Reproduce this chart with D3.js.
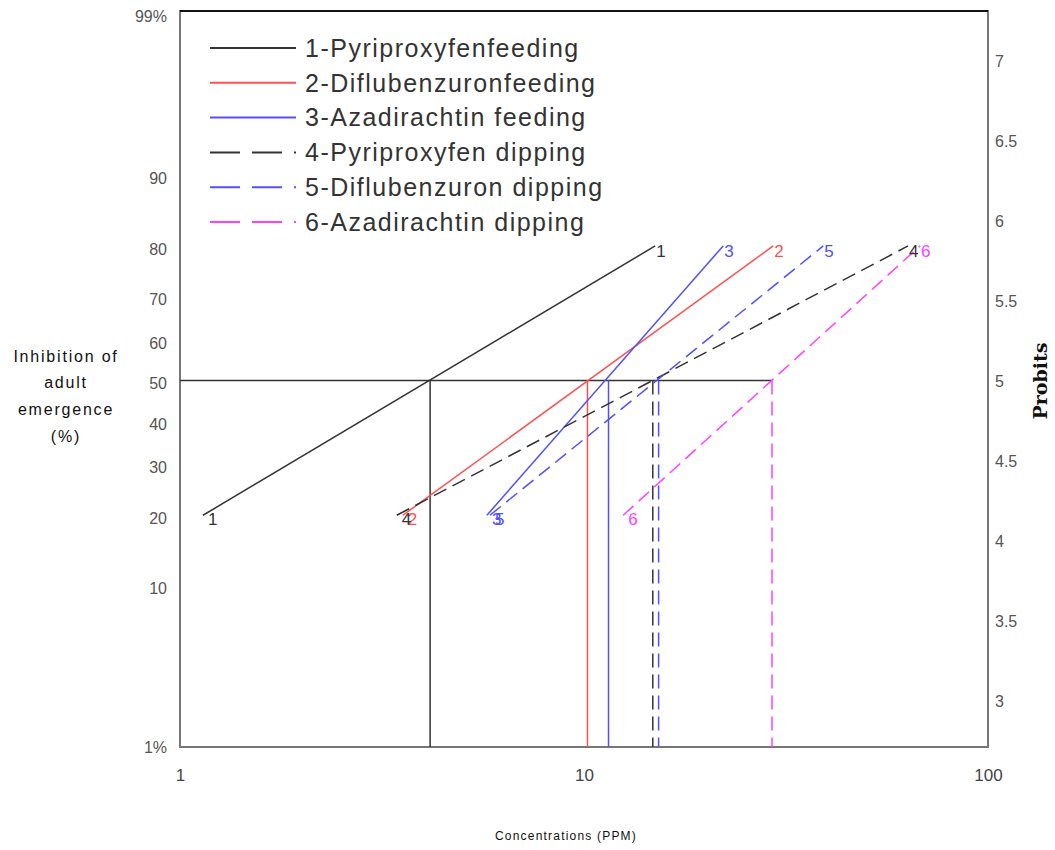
<!DOCTYPE html>
<html>
<head>
<meta charset="utf-8">
<script src="https://cdn.jsdelivr.net/npm/d3@7"></script>
<style>
  body { margin: 0; background: #fff; }
  svg { display: block; }
</style>
</head>
<body>
<svg id="chart" width="1055" height="850"></svg>
<script>
// series names and the numbers drawn at each end of a line
var seriesNames = ["1-Pyriproxyfenfeeding", "2-Diflubenzuronfeeding", "3-Azadirachtin feeding",
                   "4-Pyriproxyfen dipping", "5-Diflubenzuron dipping", "6-Azadirachtin dipping"];
var seriesIds = ["1", "2", "3", "4", "5", "6"];

// concentrations (PPM)
var lc20 = [1.14, 3.56, 5.75, 3.44, 5.85, 12.5];
var lc50 = [4.16, 10.2, 11.5, 14.8, 15.3, 29.2];
var lc80 = [15.0, 29.4, 22.1, 63.4, 39.1, 67.9];
var lowPct = 20, midPct = 50, highPct = 80;

// axis ticks
var pctTicks = [99, 90, 80, 70, 60, 50, 40, 30, 20, 10, 1];
var pctLabels = ["99%", "90", "80", "70", "60", "50", "40", "30", "20", "10", "1%"];
var probitTicks = [3, 3.5, 4, 4.5, 5, 5.5, 6, 6.5, 7];
var concTicks = [1, 10, 100];

// styles
var colors = ["#333", "#ff5050", "#5050ff", "#333", "#5050ff", "#ff40ff"];
var dashed = [false, false, false, true, true, true];

var plotL = 180, plotR = 988, plotT = 11, plotB = 747;

// inverse normal cdf (Acklam) -> probit = z + 5
function probit(pct) {
  var p = pct / 100;
  var a = [-3.969683028665376e+01, 2.209460984245205e+02, -2.759285104469687e+02, 1.383577518672690e+02, -3.066479806614716e+01, 2.506628277459239e+00],
      b = [-5.447609879822406e+01, 1.615858368580409e+02, -1.556989798598866e+02, 6.680131188771972e+01, -1.328068155288572e+01],
      c = [-7.784894002430293e-03, -3.223964580411365e-01, -2.400758277161838e+00, -2.549671010029189e+00, 4.374664141464968e+00, 2.938163982698783e+00],
      d = [7.784695709041462e-03, 3.224671290700398e-01, 2.445134137142996e+00, 3.754408661907416e+00];
  var q, r, z;
  if (p < 0.02425) {
    q = Math.sqrt(-2 * Math.log(p));
    z = (((((c[0]*q+c[1])*q+c[2])*q+c[3])*q+c[4])*q+c[5]) / ((((d[0]*q+d[1])*q+d[2])*q+d[3])*q+1);
  } else if (p <= 1 - 0.02425) {
    q = p - 0.5; r = q * q;
    z = (((((a[0]*r+a[1])*r+a[2])*r+a[3])*r+a[4])*r+a[5])*q / (((((b[0]*r+b[1])*r+b[2])*r+b[3])*r+b[4])*r+1);
  } else {
    q = Math.sqrt(-2 * Math.log(1 - p));
    z = -(((((c[0]*q+c[1])*q+c[2])*q+c[3])*q+c[4])*q+c[5]) / ((((d[0]*q+d[1])*q+d[2])*q+d[3])*q+1);
  }
  return z + 5;
}

var svg = d3.select("#chart");

var x = d3.scaleLog().domain([1, 100]).range([plotL, plotR]);
var y = d3.scaleLinear().domain([2.71, 7.31]).range([plotB, plotT]);
var yp = function(pct) { return y(probit(pct)); };

// frame
svg.append("rect")
    .attr("x", plotL).attr("y", plotT)
    .attr("width", plotR - plotL).attr("height", plotB - plotT)
    .attr("fill", "none").attr("stroke", "#777").attr("stroke-width", 2);
svg.append("line")
    .attr("x1", plotL).attr("x2", plotR).attr("y1", plotT).attr("y2", plotT)
    .attr("stroke", "#111").attr("stroke-width", 2);

// left percent labels
svg.append("g").selectAll("text")
    .data(pctTicks)
  .enter().append("text")
    .attr("x", 167)
    .attr("y", function(d) { return Math.max(16, Math.min(747, yp(d) + 3)); })
    .attr("dy", "0.35em")
    .attr("text-anchor", "end")
    .attr("font-family", "Liberation Sans, Arial, sans-serif")
    .attr("font-size", 16)
    .attr("fill", "#555")
    .text(function(d, i) { return pctLabels[i]; });

// right probit axis
var yAxis = d3.axisRight(y).tickValues(probitTicks).tickSize(0).tickPadding(7)
    .tickFormat(function(d) { return d; });
var gy = svg.append("g")
    .attr("transform", "translate(" + plotR + ",1)")
    .call(yAxis);
gy.select(".domain").remove();
gy.selectAll("text")
    .attr("font-family", "Liberation Sans, Arial, sans-serif")
    .attr("font-size", 16)
    .attr("fill", "#555");

// bottom concentration axis
var xAxis = d3.axisBottom(x).tickValues(concTicks).tickSize(0).tickPadding(22)
    .tickFormat(d3.format("d"));
var gx = svg.append("g")
    .attr("transform", "translate(0," + plotB + ")")
    .call(xAxis);
gx.select(".domain").remove();
gx.selectAll("text")
    .attr("font-family", "Liberation Sans, Arial, sans-serif")
    .attr("font-size", 17)
    .attr("fill", "#444");

// axis titles
var leftTitle = ["Inhibition of", "adult", "emergence", "(%)"];
svg.append("g").selectAll("text")
    .data(leftTitle)
  .enter().append("text")
    .attr("x", 66)
    .attr("y", function(d, i) { return 356 + i * 26.7; })
    .attr("dy", "0.35em")
    .attr("text-anchor", "middle")
    .attr("font-family", "Liberation Sans, Arial, sans-serif")
    .attr("font-size", 16)
    .attr("letter-spacing", 1.8)
    .attr("fill", "#111")
    .text(function(d) { return d; });

svg.append("text")
    .attr("transform", "translate(1040," + 381 + ") rotate(-90)")
    .attr("dy", "0.35em")
    .attr("text-anchor", "middle")
    .attr("font-family", "DejaVu Serif, serif")
    .attr("font-weight", "bold")
    .attr("font-size", 19)
    .attr("fill", "#111")
    .text("Probits");

svg.append("text")
    .attr("x", 566).attr("y", 836)
    .attr("dy", "0.35em")
    .attr("text-anchor", "middle")
    .attr("font-family", "Liberation Sans, Arial, sans-serif")
    .attr("font-size", 12)
    .attr("letter-spacing", 1.2)
    .attr("fill", "#111")
    .text("Concentrations (PPM)");

var idx = d3.range(seriesNames.length);

// drop lines from LC50 to the bottom axis
svg.append("line")
    .attr("x1", plotL).attr("x2", x(d3.max(lc50)))
    .attr("y1", yp(midPct)).attr("y2", yp(midPct))
    .attr("stroke", "#333").attr("stroke-width", 1.5);

svg.append("g").selectAll("line")
    .data(idx)
  .enter().append("line")
    .attr("x1", function(i) { return x(lc50[i]); })
    .attr("x2", function(i) { return x(lc50[i]); })
    .attr("y1", yp(midPct))
    .attr("y2", plotB)
    .attr("stroke", function(i) { return colors[i]; })
    .attr("stroke-width", 1.5)
    .attr("stroke-dasharray", function(i) { return dashed[i] ? "14,7" : null; });

// probit regression lines
svg.append("g").selectAll("line")
    .data(idx)
  .enter().append("line")
    .attr("x1", function(i) { return x(lc20[i]); })
    .attr("y1", yp(lowPct))
    .attr("x2", function(i) { return x(lc80[i]); })
    .attr("y2", yp(highPct))
    .attr("stroke", function(i) { return colors[i]; })
    .attr("stroke-width", 1.5)
    .attr("stroke-dasharray", function(i) { return dashed[i] ? "14,7" : null; });

// end numbers
var endLabels = svg.append("g")
    .attr("font-family", "Liberation Sans, Arial, sans-serif")
    .attr("font-size", 17);
endLabels.selectAll(".lo")
    .data(idx)
  .enter().append("text")
    .attr("class", "lo")
    .attr("x", function(i) { return x(lc20[i]) + 5; })
    .attr("y", yp(lowPct) + 4)
    .attr("dy", "0.35em")
    .attr("fill", function(i) { return colors[i]; })
    .text(function(i) { return seriesIds[i]; });
endLabels.selectAll(".hi")
    .data(idx)
  .enter().append("text")
    .attr("class", "hi")
    .attr("x", function(i) { return x(lc80[i]) + 1; })
    .attr("y", yp(highPct) + 5)
    .attr("dy", "0.35em")
    .attr("fill", function(i) { return colors[i]; })
    .text(function(i) { return seriesIds[i]; });

// legend
var legend = svg.append("g").attr("transform", "translate(210,48)");
var item = legend.selectAll("g")
    .data(idx)
  .enter().append("g")
    .attr("transform", function(i) { return "translate(0," + i * 34.8 + ")"; });
item.append("line")
    .attr("x1", 0).attr("x2", 86)
    .attr("stroke", function(i) { return colors[i]; })
    .attr("stroke-width", 2)
    .attr("stroke-dasharray", function(i) { return dashed[i] ? "30,12,30,12,2,20" : null; });
item.append("text")
    .attr("x", 95)
    .attr("dy", "0.35em")
    .attr("font-family", "Liberation Sans, Arial, sans-serif")
    .attr("font-size", 25)
    .attr("letter-spacing", 1.5)
    .attr("fill", "#333")
    .text(function(i) { return seriesNames[i]; });
</script>
</body>
</html>
